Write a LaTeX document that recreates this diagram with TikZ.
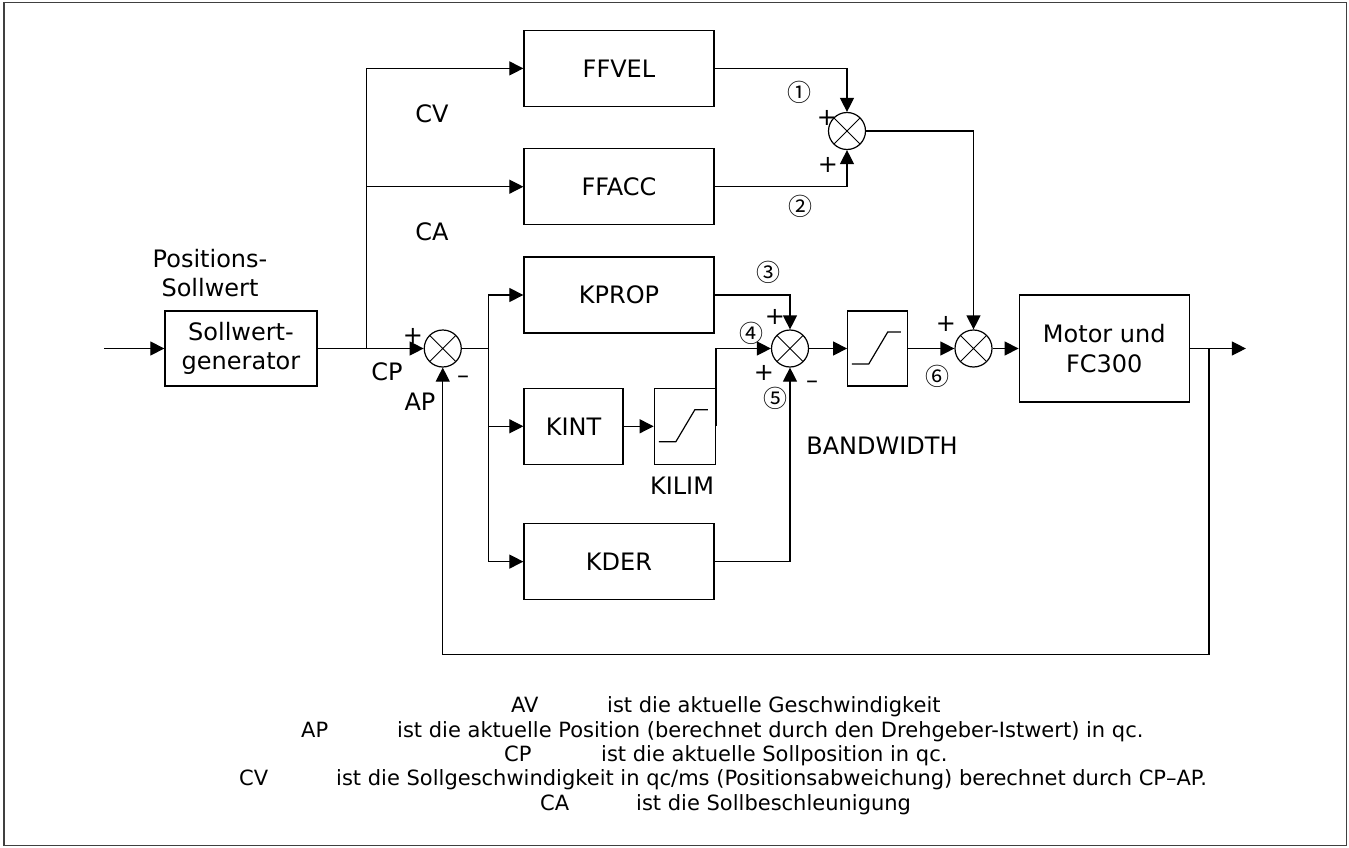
\documentclass[tikz,border=0pt]{standalone}
\usepackage{fontspec}
\setmainfont{DejaVu Sans}
\newfontfamily\kreisziffer{Noto Sans CJK SC}
\usetikzlibrary{positioning,arrows.meta,calc}

\begin{document}
\begin{tikzpicture}[
    x=1pt, y=-1pt,
    font=\fontsize{24}{29.5}\selectfont,
    block/.style={
      draw,
      line width=1.3pt,
      minimum width=190pt,
      minimum height=76pt,
      inner sep=0pt,
      align=center
    },
    summe/.style={
      draw,
      circle,
      line width=1.2pt,
      minimum size=37pt,
      inner sep=0pt,
      path picture={
        \draw[line width=1pt] (path picture bounding box.north west) -- (path picture bounding box.south east)
          (path picture bounding box.south west) -- (path picture bounding box.north east);
      }
    },
    begrenzer/.style={
      block,
      minimum width=61pt,
      path picture={
        \draw[line width=1.2pt] ([shift={(-26,15.5)}]path picture bounding box.center)
          -- ++(17,0) -- ++(19,-32) -- ++(13,0);
      }
    },
    lbl/.style={inner sep=0pt, align=center},
    nummer/.style={lbl, font=\kreisziffer\fontsize{24}{24}\selectfont},
    legende/.style={anchor=base west, inner sep=0pt, font=\fontsize{21}{25}\selectfont},
    pfeil/.style={
      -{Triangle[length=14pt,width=14pt]},
      line width=1.2pt
    },
    linie/.style={line width=1.2pt}
  ]
  \useasboundingbox (0,0) rectangle (1349,848);
  \draw[line width=1.6pt, black!75] (4,2.5) rectangle (1346.5,845.5);

  % Sollwert
  \node[block, minimum width=152pt, minimum height=75pt] (sollwert) at (241,348.5) {Sollwert-\\generator};
  \node[summe, right=106pt of sollwert] (sum1) {};

  % Vorsteuerung und Regler
  \node[block] (kprop) at (619,295) {KPROP};
  \node[block, above=31pt of kprop] (ffacc) {FFACC};
  \node[block, above=41pt of ffacc] (ffvel) {FFVEL};
  \node[block, minimum width=99pt, below right=54pt and 0pt of kprop.south west] (kint) {KINT};
  \node[begrenzer, right=30pt of kint] (kilim) {};
  \node[block, below right=58pt and 0pt of kint.south west] (kder) {KDER};

  % Summierer und Strecke
  \node[summe] (sumff) at (847,131) {};
  \node[summe] (sum2) at (790,348.5) {};
  \node[begrenzer, minimum width=60pt, minimum height=75pt, right=38pt of sum2] (bw) {};
  \node[summe, right=46pt of bw] (sum3) {};
  \node[block, minimum width=170pt, minimum height=107pt, right=26pt of sum3] (motor) {Motor und\\FC300};

  % Beschriftungen
  \node[lbl] (possoll) at (210,273) {Positions-\\Sollwert};
  \node[lbl] (cv) at (432,114) {CV};
  \node[lbl] (ca) at (432,232) {CA};
  \node[lbl] (cp) at (387,372) {CP};
  \node[lbl] (ap) at (420,402) {AP};
  \node[lbl] (s1plus) at (413,336) {+};
  \node[lbl] (s1minus) at (463,380) {–};
  \node[nummer] (n1) at (799,92) {①};
  \node[nummer] (n2) at (800,206) {②};
  \node[lbl] (sfplus1) at (827,118) {+};
  \node[lbl] (sfplus2) at (828,165) {+};
  \node[nummer] (n3) at (768,272) {③};
  \node[nummer] (n4) at (751,333) {④};
  \node[nummer] (n5) at (775,398) {⑤};
  \node[lbl] (s2plus1) at (775,317) {+};
  \node[lbl] (s2plus2) at (764,373) {+};
  \node[lbl] (s2minus) at (812,385) {–};
  \node[nummer] (n6) at (937,376) {⑥};
  \node[lbl] (s3plus) at (946,324) {+};
  \node[lbl] (kilimtxt) at (682,486) {KILIM};
  \node[lbl] (bwtxt) at (882,446) {BANDWIDTH};

  % Verbindungen
  \coordinate (ein) at ($(sollwert.west)+(-60,0)$);
  \coordinate (verzw1) at ($(sollwert.east)+(49,0)$);
  \coordinate (verzw2) at ($(sum1.east)+(27,0)$);
  \coordinate (verzw3) at ($(motor.east)+(19,0)$);
  \coordinate (aus) at ($(motor.east)+(56,0)$);

  \draw[pfeil] (ein) -- (sollwert);
  \draw[pfeil] (sollwert) -- (sum1);
  \draw[pfeil] (verzw1) |- (ffvel.west);
  \draw[pfeil] (verzw1) |- (ffacc.west);
  \draw[linie] (sum1.east) -- (verzw2);
  \draw[pfeil] (verzw2) |- (kprop.west);
  \draw[pfeil] (verzw2) |- (kint.west);
  \draw[pfeil] (verzw2) |- (kder.west);
  \draw[pfeil] (kint) -- (kilim);

  \draw[pfeil] (ffvel.east) -| (sumff.north);
  \draw[pfeil] (ffacc.east) -| (sumff.south);
  \draw[pfeil] (sumff.east) -| (sum3.north);

  \draw[pfeil] (kprop.east) -| (sum2.north);
  \draw[pfeil] (kilim.east) |- (sum2.west);
  \draw[pfeil] (kder.east) -| (sum2.south);
  \draw[pfeil] (sum2) -- (bw);
  \draw[pfeil] (bw) -- (sum3);
  \draw[pfeil] (sum3) -- (motor);
  \draw[pfeil] (motor.east) -- (aus);

  % Rueckfuehrung
  \draw[pfeil] (verzw3) -- ++(0,306) -| (sum1.south);

  % Legende
  \node[legende] (avk) at (511,712.5) {AV};
  \node[legende] (avt) at ($(avk.base west)+(96,0)$) {ist die aktuelle Geschwindigkeit};
  \node[legende] (apk) at (301,737.5) {AP};
  \node[legende] (apt) at ($(apk.base west)+(96,0)$) {ist die aktuelle Position (berechnet durch den Drehgeber-Istwert) in qc.};
  \node[legende] (cpk) at (504,761.5) {CP};
  \node[legende] (cpt) at ($(cpk.base west)+(97,0)$) {ist die aktuelle Sollposition in qc.};
  \node[legende] (cvk) at (239,785.5) {CV};
  \node[legende] (cvt) at ($(cvk.base west)+(97,0)$) {ist die Sollgeschwindigkeit in qc/ms (Positionsabweichung) berechnet durch CP–AP.};
  \node[legende] (cak) at (540,810.5) {CA};
  \node[legende] (cat) at ($(cak.base west)+(96,0)$) {ist die Sollbeschleunigung};

\end{tikzpicture}
\end{document}
